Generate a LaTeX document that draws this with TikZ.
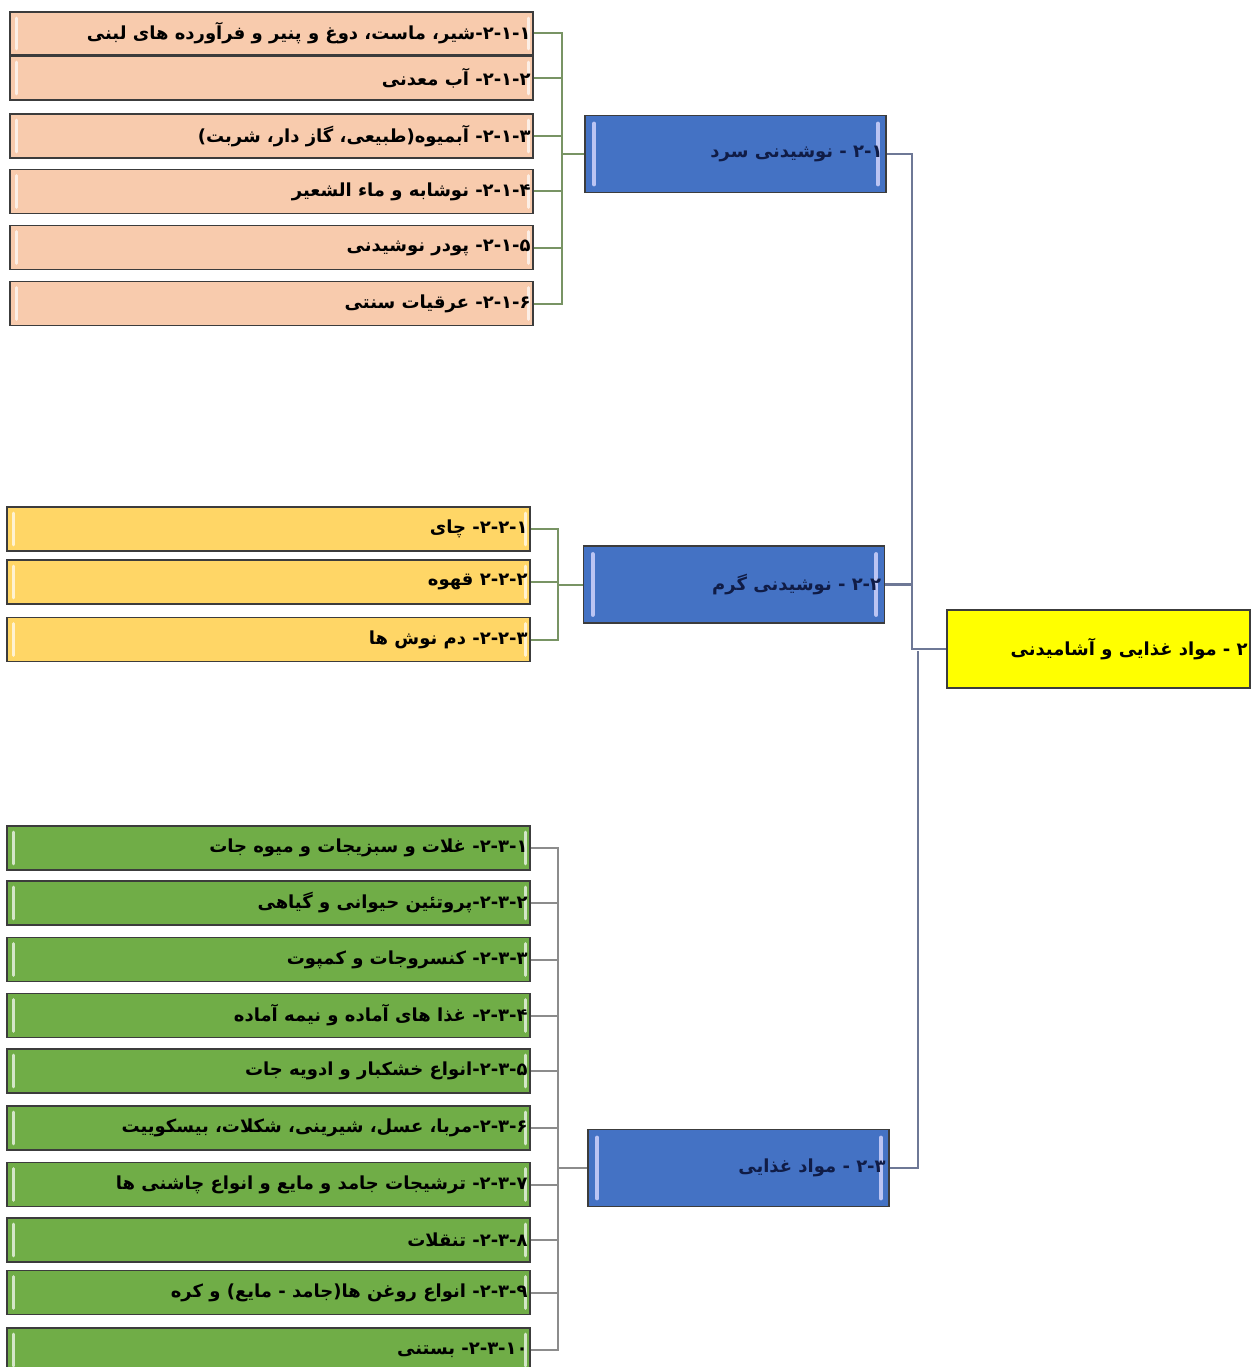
\documentclass[tikz,border=0pt]{standalone}
\usepackage{fontspec}
\newfontfamily\arabicfont[Script=Arabic]{DejaVu Sans}
\TeXXeTstate=1
\newcommand{\fa}[1]{{\arabicfont\bfseries\beginR #1\endR}}
\definecolor{peach}{RGB}{248,203,173}
\definecolor{gold}{RGB}{255,214,102}
\definecolor{leaf}{RGB}{112,173,71}
\definecolor{mainblue}{RGB}{68,114,196}
\definecolor{rootyellow}{RGB}{255,255,0}
\definecolor{edgegray}{RGB}{60,60,60}
\definecolor{olivegray}{RGB}{120,148,100}
\definecolor{midgray}{RGB}{140,140,140}
\definecolor{slate}{RGB}{110,120,150}
\definecolor{navytext}{RGB}{16,28,70}
\tikzset{
  itembox/.style={draw=edgegray, line width=1.8pt, rectangle, inner sep=0pt,
    minimum width=523pt, minimum height=44pt},
  mainbox/.style={draw=edgegray, line width=1.8pt, rectangle, inner sep=0pt,
    fill=mainblue, minimum width=301pt, minimum height=77pt},
  txt/.style={anchor=east, inner sep=1pt, font=\fontsize{18}{21}\selectfont},
  cline/.style={draw=olivegray, line width=2pt},
  gline/.style={draw=midgray, line width=2pt},
  tline/.style={draw=slate, line width=2.2pt},
  hlbar/.style={line width=3pt, line cap=round, draw=white, opacity=0.7},
  hlblue/.style={line width=4pt, line cap=round, draw=blue!15!white, opacity=0.8},
}
\newcommand{\glossitem}[1]{%
  \draw[hlbar] ([xshift=7pt,yshift=-7pt]#1.north west) -- ([xshift=7pt,yshift=7pt]#1.south west);
  \draw[hlbar] ([xshift=-5pt,yshift=-7pt]#1.north east) -- ([xshift=-5pt,yshift=7pt]#1.south east);}
\newcommand{\glossmain}[1]{%
  \draw[hlblue] ([xshift=10pt,yshift=-9pt]#1.north west) -- ([xshift=10pt,yshift=9pt]#1.south west);
  \draw[hlblue] ([xshift=-9pt,yshift=-9pt]#1.north east) -- ([xshift=-9pt,yshift=9pt]#1.south east);}
\begin{document}
\begin{tikzpicture}[x=1pt,y=-1pt]
\useasboundingbox[fill=white] (0,0) rectangle (1258,1367);
% bus coordinates
\coordinate (busc) at (562,0);
\coordinate (bush) at (558,0);
\coordinate (busf) at (558,0);
\coordinate (trunka) at (912,0);
\coordinate (trunkb) at (918,0);

% ---------- root ----------
\node[draw=edgegray, line width=1.8pt, fill=rootyellow, minimum width=303pt, minimum height=78pt, inner sep=0pt] (root) at (1098.5,649) {};
\node[txt] (roott) at ([xshift=-2pt]root.east) {\fa{۲ - مواد غذایی و آشامیدنی}};

% ---------- main boxes ----------
\node[mainbox] (cm) at (735.5,154) {};
\node[mainbox] (hm) at (734,584.5) {};
\node[mainbox] (fm) at (738.5,1168) {};
\glossmain{cm}\glossmain{hm}\glossmain{fm}
\node[txt, text=navytext] (cmt) at ([xshift=-3pt]cm.east) {\fa{۲-۱ - نوشیدنی سرد}};
\node[txt, text=navytext] (hmt) at ([xshift=-3pt]hm.east) {\fa{۲-۲ - نوشیدنی گرم}};
\node[txt, text=navytext] (fmt) at ([xshift=-3pt]fm.east) {\fa{۲-۳ - مواد غذایی}};

% ---------- cold items ----------
\node[itembox, fill=peach, minimum height=43pt] (c1) at (271.5,33.5) {};
\node[itembox, fill=peach] (c2) at (271.5,78) {};
\node[itembox, fill=peach] (c3) at (271.5,136) {};
\node[itembox, fill=peach] (c4) at (271.5,191.5) {};
\node[itembox, fill=peach] (c5) at (271.5,247.5) {};
\node[itembox, fill=peach] (c6) at (271.5,303.5) {};
\foreach \n in {c1,c2,c3,c4,c5,c6} {\glossitem{\n}}
\node[txt] (c1t) at ([xshift=-2pt]c1.east) {\fa{۲-۱-۱-شیر، ماست، دوغ و پنیر و فرآورده های لبنی}};
\node[txt] (c2t) at ([xshift=-2pt]c2.east) {\fa{۲-۱-۲- آب معدنی}};
\node[txt] (c3t) at ([xshift=-2pt]c3.east) {\fa{۲-۱-۳- آبمیوه(طبیعی، گاز دار، شربت)}};
\node[txt] (c4t) at ([xshift=-2pt]c4.east) {\fa{۲-۱-۴- نوشابه و ماء الشعیر}};
\node[txt] (c5t) at ([xshift=-2pt]c5.east) {\fa{۲-۱-۵- پودر نوشیدنی}};
\node[txt] (c6t) at ([xshift=-2pt]c6.east) {\fa{۲-۱-۶- عرقیات سنتی}};

% ---------- hot items ----------
\node[itembox, fill=gold] (h1) at (268.5,529) {};
\node[itembox, fill=gold] (h2) at (268.5,582) {};
\node[itembox, fill=gold] (h3) at (268.5,639.5) {};
\foreach \n in {h1,h2,h3} {\glossitem{\n}}
\node[txt] (h1t) at ([xshift=-2pt]h1.east) {\fa{۲-۲-۱- چای}};
\node[txt] (h2t) at ([xshift=-2pt]h2.east) {\fa{۲-۲-۲ قهوه}};
\node[txt] (h3t) at ([xshift=-2pt]h3.east) {\fa{۲-۲-۳- دم نوش ها}};

% ---------- food items ----------
\node[itembox, fill=leaf] (f1) at (268.5,848) {};
\node[itembox, fill=leaf] (f2) at (268.5,903) {};
\node[itembox, fill=leaf] (f3) at (268.5,959.5) {};
\node[itembox, fill=leaf] (f4) at (268.5,1015.5) {};
\node[itembox, fill=leaf] (f5) at (268.5,1071) {};
\node[itembox, fill=leaf] (f6) at (268.5,1128) {};
\node[itembox, fill=leaf] (f7) at (268.5,1184.5) {};
\node[itembox, fill=leaf] (f8) at (268.5,1240) {};
\node[itembox, fill=leaf] (f9) at (268.5,1292.5) {};
\node[itembox, fill=leaf] (f10) at (268.5,1350) {};
\foreach \n in {f1,f2,f3,f4,f5,f6,f7,f8,f9,f10} {\glossitem{\n}}
\node[txt] (f1t) at ([xshift=-2pt]f1.east) {\fa{۲-۳-۱- غلات و سبزیجات و میوه جات}};
\node[txt] (f2t) at ([xshift=-2pt]f2.east) {\fa{۲-۳-۲-پروتئین حیوانی و گیاهی}};
\node[txt] (f3t) at ([xshift=-2pt]f3.east) {\fa{۲-۳-۳- کنسروجات و کمپوت}};
\node[txt] (f4t) at ([xshift=-2pt]f4.east) {\fa{۲-۳-۴- غذا های آماده و نیمه آماده}};
\node[txt] (f5t) at ([xshift=-2pt]f5.east) {\fa{۲-۳-۵-انواع خشکبار و ادویه جات}};
\node[txt] (f6t) at ([xshift=-2pt]f6.east) {\fa{۲-۳-۶-مربا، عسل، شیرینی، شکلات، بیسکوییت}};
\node[txt] (f7t) at ([xshift=-2pt]f7.east) {\fa{۲-۳-۷- ترشیجات جامد و مایع و انواع چاشنی ها}};
\node[txt] (f8t) at ([xshift=-2pt]f8.east) {\fa{۲-۳-۸- تنقلات}};
\node[txt] (f9t) at ([xshift=-2pt]f9.east) {\fa{۲-۳-۹- انواع روغن ها(جامد - مایع) و کره}};
\node[txt] (f10t) at ([xshift=-2pt]f10.east) {\fa{۲-۳-۱۰- بستنی}};

% ---------- connectors ----------
\foreach \n in {c1,c2,c3,c4,c5,c6} {\draw[cline] (\n.east) -- (\n.east -| busc) |- (cm.west);}
\foreach \n in {h1,h2,h3} {\draw[cline] (\n.east) -- (\n.east -| bush) |- (hm.west);}
\foreach \n in {f1,f2,f3,f4,f5,f6,f7,f8,f9,f10} {\draw[gline] (\n.east) -- (\n.east -| busf) |- (fm.west);}
\draw[tline] (cm.east) -- (cm.east -| trunka) |- (root.west);
\draw[tline] (hm.east) -- (hm.east -| trunka);
\draw[tline] (fm.east) -- (fm.east -| trunkb) |- ([yshift=-2pt]root.west -| trunkb);
\end{tikzpicture}
\end{document}
